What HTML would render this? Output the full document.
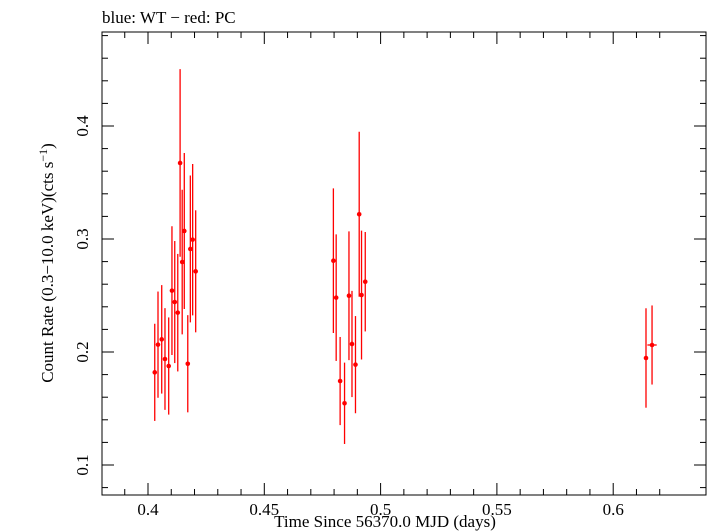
<!DOCTYPE html>
<html><head><meta charset="utf-8"><style>
html,body{margin:0;padding:0;background:#fff;}
svg{display:block;font-family:"Liberation Serif",serif;}
</style></head><body>
<svg id="chart" width="709" height="532" viewBox="0 0 709 532" xmlns="http://www.w3.org/2000/svg">
<text x="102" y="23" font-size="17">blue: WT − red: PC</text>
<rect x="102" y="32" width="604" height="463" fill="none" stroke="#000" stroke-width="1"/>
<g id="ticks"></g>
<g id="marks"></g>
<text x="385" y="527" font-size="17" text-anchor="middle">Time Since 56370.0 MJD (days)</text>
<text transform="translate(53,263) rotate(-90)" font-size="17" text-anchor="middle">Count Rate (0.3−10.0 keV)(cts s<tspan font-size="12" dy="-6">−1</tspan><tspan dy="6">)</tspan></text>
</svg>
<script>
const times=[0.4029,0.4043,0.4059,0.4073,0.4089,0.4103,0.4115,0.4128,0.4138,0.4147,0.4156,0.4171,0.4182,0.4192,0.4205,
0.4797,0.4809,0.4826,0.4845,0.4864,0.4877,0.4892,0.4908,0.4918,0.4934,0.6141,0.6167];
const rates=[0.182,0.2065,0.2112,0.1938,0.1876,0.2543,0.2442,0.2348,0.3673,0.2796,0.3071,0.1896,0.2912,0.2994,0.2714,
0.2808,0.2481,0.1743,0.1546,0.2498,0.2071,0.1888,0.3219,0.2504,0.2622,0.1947,0.2062];
const rateErrs=[0.043,0.047,0.048,0.045,0.043,0.057,0.054,0.052,0.083,0.064,0.069,0.043,0.065,0.067,0.054,
0.064,0.056,0.039,0.036,0.057,0.047,0.043,0.073,0.057,0.044,0.044,0.035];
const timeErrs=[0.0005,0.0005,0.0005,0.0005,0.0005,0.0005,0.0005,0.0005,0.0005,0.0005,0.0005,0.0005,0.0005,0.0005,0.0005,
0.0005,0.0005,0.0005,0.0005,0.0005,0.0005,0.0005,0.0005,0.0005,0.0005,0.0005,0.002];
const xTickLabels=["0.4","0.45","0.5","0.55","0.6"];
const yTickLabels=["0.1","0.2","0.3","0.4"];

const L=102,R=706,T=32,B=495;
function xs(t){return 148+(t-0.4)*2326;}
function ys(v){return 465-(v-0.1)*1130;}
const NS="http://www.w3.org/2000/svg";
function mk(tag,attrs,parent){const e=document.createElementNS(NS,tag);for(const k in attrs)e.setAttribute(k,attrs[k]);parent.appendChild(e);return e;}
const tg=document.getElementById('ticks');
for(let i=0;i<=24;i++){
  const t=0.38+i*0.01; const x=xs(t); if(x<L||x>R)continue;
  const major=Math.abs(Math.round(t*100)%5)===0;
  const len=major?12:6;
  const a=mk('line',{x1:x,y1:B,x2:x,y2:B-len,stroke:'#000'},tg);
  
  
  const b=mk('line',{x1:x,y1:T,x2:x,y2:T+len,stroke:'#000'},tg);
  
  
}
xTickLabels.forEach(s=>{
  const tx=mk('text',{x:xs(parseFloat(s)),y:B+20,'font-size':17,'text-anchor':'middle'},tg);
  tx.textContent=s;
  
  
});
for(let i=0;i<=30;i++){
  const v=0.08+i*0.02; const y=ys(v); if(y<T||y>B)continue;
  const major=Math.abs(Math.round(v*100)%10)===0;
  const len=major?12:6;
  const a=mk('line',{x1:L,y1:y,x2:L+len,y2:y,stroke:'#000'},tg);
  
  
  const b=mk('line',{x1:R,y1:y,x2:R-len,y2:y,stroke:'#000'},tg);
  
  
}
yTickLabels.forEach(s=>{
  const y=ys(parseFloat(s));
  const tx=mk('text',{x:0,y:0,'font-size':17,'text-anchor':'middle',transform:`translate(${L-14},${y}) rotate(-90)`},tg);
  tx.textContent=s;
  
  
});
const mg=document.getElementById('marks');
times.forEach((t,i)=>{
  const x=xs(t),y=ys(rates[i]);
  const eb=mk('line',{x1:x,y1:ys(rates[i]-rateErrs[i]),x2:x,y2:ys(rates[i]+rateErrs[i]),stroke:'#f00','stroke-width':1.3},mg);
  
  
  const hb=mk('line',{x1:xs(t-timeErrs[i]),y1:y,x2:xs(t+timeErrs[i]),y2:y,stroke:'#f00','stroke-width':1.3},mg);
  
  
  const p=mk('circle',{cx:x,cy:y,r:2.3,fill:'#f00'},mg);
  
  
});
</script>
</body></html>
